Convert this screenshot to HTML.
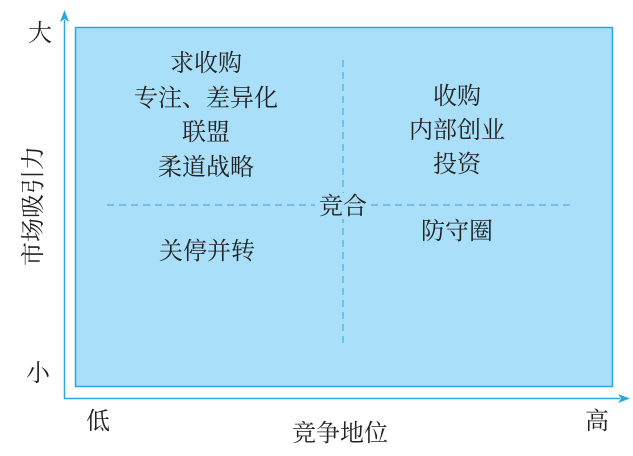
<!DOCTYPE html>
<html><head><meta charset="utf-8"><style>
html,body{margin:0;padding:0;background:#fff;}
svg text{font-family:"Liberation Serif","Noto Serif CJK SC",serif;fill:#222;}
</style></head><body>
<svg width="633" height="451" viewBox="0 0 633 451" xmlns="http://www.w3.org/2000/svg">
<rect x="75.5" y="27.5" width="537" height="359" fill="#a9dff8" stroke="#2aa7de" stroke-width="1.5"/>
<line x1="64.5" y1="398.5" x2="64.5" y2="20" stroke="#2aa7de" stroke-width="1.5"/>
<polygon points="64.5,10 60,22 64.5,19 69,22" fill="#2aa7de"/>
<line x1="64" y1="398.5" x2="620" y2="398.5" stroke="#2aa7de" stroke-width="1.5"/>
<polygon points="630,398.5 618,394 621,398.5 618,403" fill="#2aa7de"/>
<line x1="107" y1="205" x2="570" y2="205" stroke="#3aa0d8" stroke-width="1" stroke-dasharray="7,5"/>
<line x1="343" y1="60" x2="343" y2="346" stroke="#3aa0d8" stroke-width="1" stroke-dasharray="7,5"/>
<g font-size="24" text-anchor="middle">
<text x="206" y="71">求收购</text>
<text x="206" y="106">专注、差异化</text>
<text x="206" y="140">联盟</text>
<text x="206" y="175">柔道战略</text>
<text x="207" y="259">关停并转</text>
<text x="457" y="104">收购</text>
<text x="457" y="138">内部创业</text>
<text x="457" y="172">投资</text>
<text x="457" y="239">防守圈</text>
<rect x="315" y="193" width="56" height="26" fill="#a9dff8"/>
<text x="343" y="214">竞合</text>
<text x="40" y="41">大</text>
<text x="38" y="381">小</text>
<text x="98" y="429">低</text>
<text x="597" y="429">高</text>
<text x="340" y="441">竞争地位</text>
<text transform="translate(41,206) rotate(-90)" font-size="24">市场吸引力</text>
</g>
</svg>
</body></html>
